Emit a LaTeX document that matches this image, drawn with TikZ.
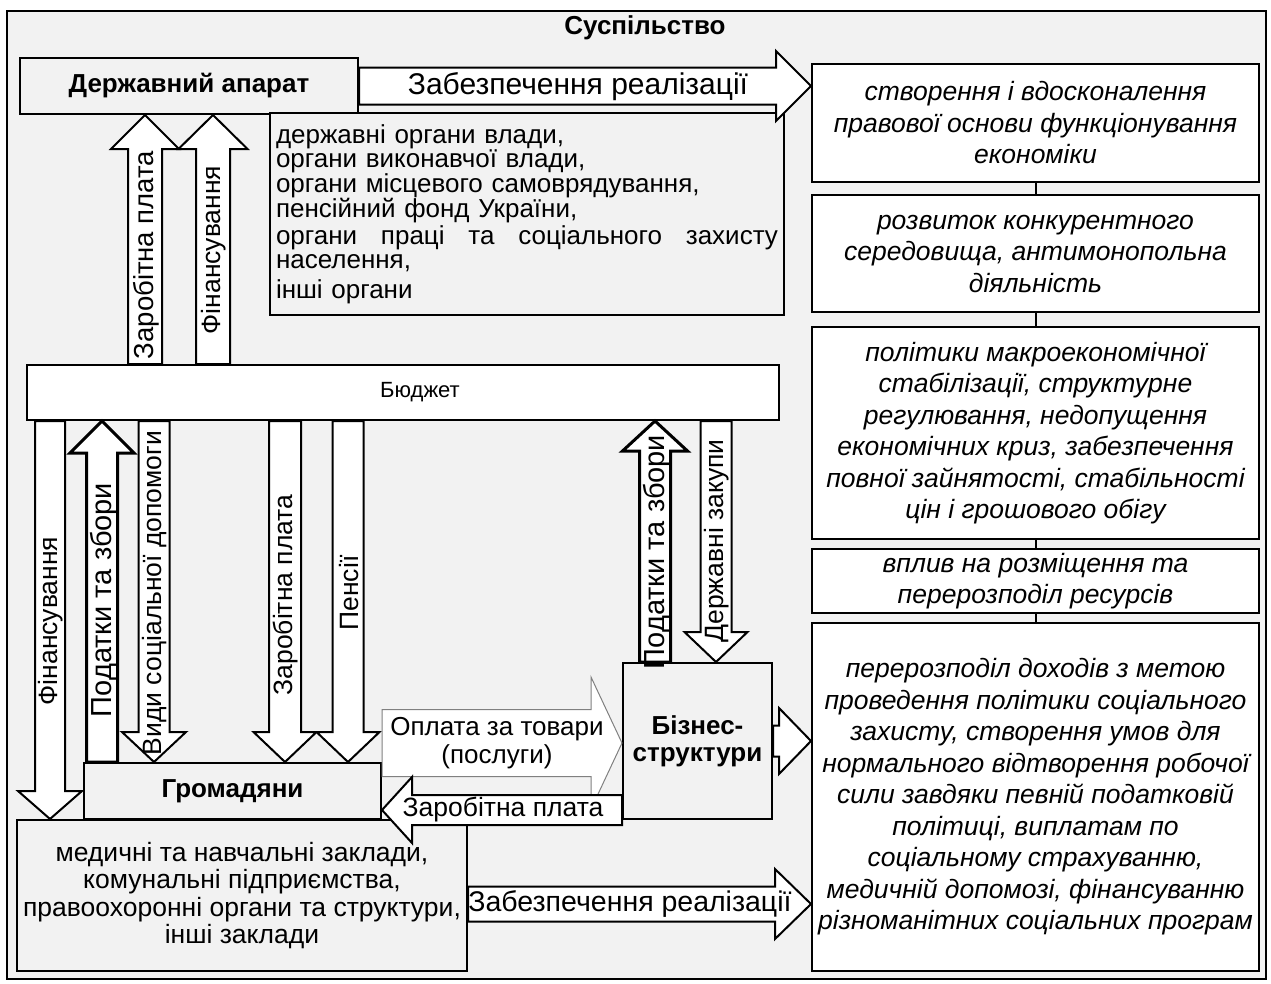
\documentclass[tikz,border=0pt]{standalone}
\usepackage{fontspec}
\setmainfont{Liberation Sans}
\usetikzlibrary{calc}

\definecolor{bgray}{HTML}{F2F2F2}

\tikzset{
  box/.style={draw, line width=2pt, fill=bgray, inner sep=0pt, align=center},
  wbox/.style={box, fill=white},
  itbox/.style={wbox, font=\fontsize{26.5}{31.5}\selectfont\itshape},
  bfbox/.style={box, font=\fontsize{26}{27}\selectfont\bfseries},
  blockarrow/.style={draw, line width=2pt, fill=white, line join=miter},
  taxarrow/.style={blockarrow, line width=3pt},
  palearrow/.style={blockarrow, draw=gray, line width=1pt},
  vlabel/.style={rotate=90, inner sep=0pt, font=\fontsize{26.5}{26.5}\selectfont},
  hlabel/.style={inner sep=0pt, align=center, font=\fontsize{26}{28}\selectfont}
}

\newcommand{\barrow}[6][]{%
  \coordinate (ba-s) at (#2);
  \coordinate (ba-e) at (#3);
  \coordinate (ba-h) at ($(ba-e)!#6!(ba-s)$);
  \draw[blockarrow,#1] ($(ba-s)!#4!90:(ba-e)$) -- ($(ba-h)!#4!90:(ba-e)$)
    -- ($(ba-h)!#5!90:(ba-e)$) -- (ba-e) -- ($(ba-h)!#5!-90:(ba-e)$)
    -- ($(ba-h)!#4!-90:(ba-e)$) -- ($(ba-s)!#4!-90:(ba-e)$) -- cycle;
}

\begin{document}
\begin{tikzpicture}[x=1pt, y=-1pt]
    \useasboundingbox (0,0) rectangle (1271,983);
    \draw[line width=1.5pt, fill=bgray] (7,11) rectangle (1266,979);

    \node[font=\fontsize{26}{26}\selectfont\bfseries] (society) at (645,28) {Суспільство};

    \node[bfbox, minimum width=338pt, minimum height=56pt] (gov) at (189,86) {Державний апарат};
    \node[box, minimum width=514pt, minimum height=202pt, text width=502pt, align=left,
          font=\fontsize{26}{24.5}\selectfont] (info) at (527,214)
        {державні органи влади,\\
         органи виконавчої влади,\\
         органи місцевого самоврядування,\\
         пенсійний фонд України,\\[2pt]
         органи\hfill праці\hfill та\hfill соціального\hfill захисту\\
         населення,\\[5pt]
         інші органи};
    \node[wbox, minimum width=752pt, minimum height=55pt, font=\fontsize{22}{22}\selectfont] (budget) at (403,392.5) {\hspace*{34pt}Бюджет};
    \node[bfbox, minimum width=297pt, minimum height=56pt] (citizens) at (232.5,791) {Громадяни};
    \node[bfbox, minimum width=149pt, minimum height=156pt] (biz) at (697.5,741) {Бізнес-\\структури};
    \node[box, minimum width=450pt, minimum height=151pt, font=\fontsize{26.5}{27.5}\selectfont] (bottom) at (242,895.5)
        {медичні та навчальні заклади,\\комунальні підприємства,\\правоохоронні органи та структури,\\інші заклади};

    \node[itbox, minimum width=447pt, minimum height=118pt] (box1) at (1035.5,123)
        {створення і вдосконалення\\правової основи функціонування\\економіки};
    \node[itbox, minimum width=447pt, minimum height=117pt] (box2) at (1035.5,253.5)
        {розвиток конкурентного\\середовища, антимонопольна\\діяльність};
    \node[itbox, minimum width=447pt, minimum height=212pt] (box3) at (1035.5,433)
        {політики макроекономічної\\стабілізації, структурне\\регулювання, недопущення\\економічних криз, забезпечення\\повної зайнятості, стабільності\\цін і грошового обігу};
    \node[itbox, minimum width=447pt, minimum height=64pt] (box4) at (1035.5,581)
        {вплив на розміщення та\\перерозподіл ресурсів};
    \node[itbox, minimum width=447pt, minimum height=348pt] (box5) at (1035.5,797)
        {перерозподіл доходів з метою\\проведення політики соціального\\захисту, створення умов для\\нормального відтворення робочої\\сили завдяки певній податковій\\політиці, виплатам по\\соціальному страхуванню,\\медичній допомозі, фінансуванню\\різноманітних соціальних програм};

    \foreach \a/\b in {box1/box2, box2/box3, box3/box4, box4/box5}
        \draw[line width=2pt] (\a) -- (\b);

    \barrow{gov.east}{box1.west |- gov.east}{18.5pt}{35pt}{35pt}
    \barrow{145,0 |- budget.north}{145,0 |- gov.south}{17pt}{34pt}{34pt}
    \barrow{213,0 |- budget.north}{213,0 |- gov.south}{17pt}{34.5pt}{34pt}
    \barrow{50,0 |- budget.south}{50,0 |- bottom.north}{15pt}{32pt}{28pt}
    \barrow[taxarrow]{102,0 |- citizens.north}{102,0 |- budget.south}{15.5pt}{32pt}{32pt}
    \barrow{154,0 |- budget.south}{154,0 |- citizens.north}{15.5pt}{32pt}{30pt}
    \barrow{285,0 |- budget.south}{285,0 |- citizens.north}{16pt}{31.5pt}{30pt}
    \barrow{348,0 |- budget.south}{348,0 |- citizens.north}{15.5pt}{31.5pt}{30pt}
    \barrow[taxarrow]{655,0 |- biz.north}{655,0 |- budget.south}{15.5pt}{32.5pt}{30pt}
    \barrow{716,0 |- budget.south}{716,0 |- biz.north}{15.5pt}{31.5pt}{30pt}
    \barrow[palearrow]{citizens.east |- 0,743}{biz.west |- 0,743}{33.5pt}{66pt}{31pt}
    \barrow{biz.west |- 0,810}{citizens.east |- 0,810}{15pt}{33pt}{30pt}
    \barrow{biz.east}{box5.west |- biz.east}{15.5pt}{33pt}{32pt}
    \barrow{bottom.east |- 0,904}{box5.west |- 0,904}{17.5pt}{35pt}{36pt}

    \node[hlabel, font=\fontsize{30}{30}\selectfont] (ltop) at (578,87) {Забезпечення реалізації};
    \node[vlabel, font=\fontsize{27.5}{27.5}\selectfont] (lwageup) at (146,255) {Заробітна плата};
    \node[vlabel] (lfinup) at (214,250) {Фінансування};
    \node[vlabel] (lfindown) at (51,621) {Фінансування};
    \node[vlabel, font=\fontsize{29}{29}\selectfont] (ltax) at (104,600) {Податки та збори};
    \node[vlabel] (lsocial) at (155,593) {Види соціальної допомоги};
    \node[vlabel] (lwagedown) at (286,595) {Заробітна плата};
    \node[vlabel] (lpension) at (349,593) {Пенсії};
    \node[vlabel, font=\fontsize{29}{29}\selectfont] (lbiztax) at (657,552) {Податки та збори};
    \node[vlabel] (lprocure) at (717,541) {Державні закупи};
    \node[hlabel] (lpay) at (497,743) {Оплата за товари\\(послуги)};
    \node[hlabel, font=\fontsize{26.5}{26.5}\selectfont] (lwage) at (503,810) {Заробітна плата};
    \node[hlabel, font=\fontsize{28.5}{28.5}\selectfont] (lbottom) at (630,904) {Забезпечення реалізації};
\end{tikzpicture}
\end{document}
